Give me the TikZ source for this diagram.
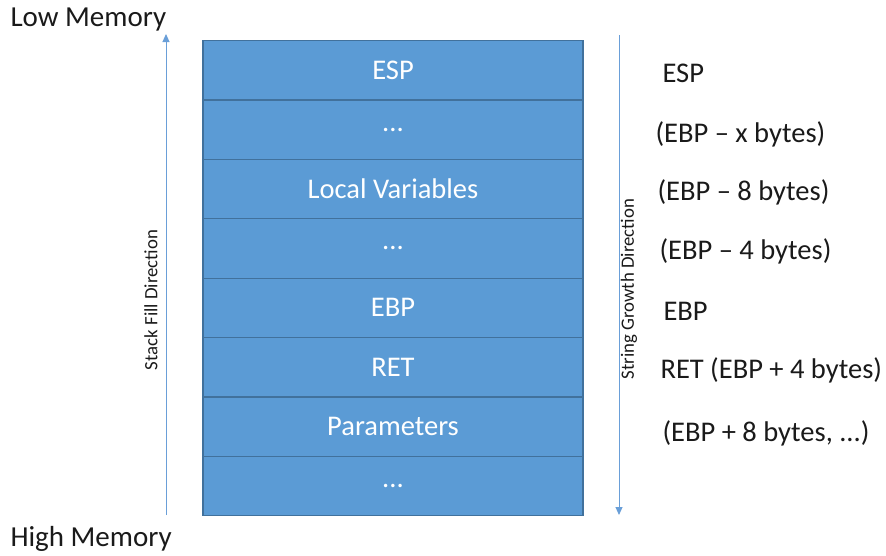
\documentclass[tikz,border=0pt]{standalone}
\usepackage{fontspec}
\setmainfont{Carlito}
\usetikzlibrary{arrows.meta}
\definecolor{boxfill}{HTML}{5B9BD5}
\definecolor{boxline}{HTML}{41719C}
\definecolor{arrowc}{HTML}{6A9FD8}
\definecolor{txt}{HTML}{1A1A1A}
\tikzset{
  cell/.style={draw=boxline, line width=1.2pt, fill=boxfill, minimum width=380pt, minimum height=59.4pt, inner sep=0pt, text=white, font=\fontsize{28.5}{30}\selectfont},
  side/.style={anchor=west, text=txt, font=\fontsize{28.5}{30}\selectfont},
  memlbl/.style={anchor=west, text=txt, font=\fontsize{29}{31}\selectfont},
  dirarrow/.style={draw=arrowc, line width=1pt, -{Triangle[length=8pt,width=7pt]}},
  dirlbl/.style={text=txt, font=\fontsize{18.8}{20}\selectfont, rotate=90}
}
\begin{document}
\begin{tikzpicture}[x=1pt,y=-1pt]
\useasboundingbox (0,0) rectangle (886,555);
\node[cell] (c1) at (393,70.2) {ESP};
\node[cell] (c2) at (393,129.6) {...};
\node[cell] (c3) at (393,189.0) {Local Variables};
\node[cell] (c4) at (393,248.4) {...};
\node[cell] (c5) at (393,307.8) {EBP};
\node[cell] (c6) at (393,367.2) {RET};
\node[cell] (c7) at (393,426.6) {Parameters};
\node[cell] (c8) at (393,486.0) {...};
\node[side] (r1) at (659,73) {ESP};
\node[side] (r2) at (652,134) {(EBP -- x bytes)};
\node[side] (r3) at (654,192) {(EBP -- 8 bytes)};
\node[side] (r4) at (656,251) {(EBP -- 4 bytes)};
\node[side] (r5) at (660,311) {EBP};
\node[side] (r6) at (657,370) {RET (EBP + 4 bytes)};
\node[side] (r7) at (659,433) {(EBP + 8 bytes, ...)};
\node[memlbl] (low) at (7,20) {Low Memory};
\node[memlbl] (high) at (7,539) {High Memory};
\coordinate (la) at (166,515);
\coordinate (lb) at (166,34);
\coordinate (ra) at (619,35);
\coordinate (rb) at (619,515);
\draw[dirarrow] (la) -- (lb);
\draw[dirarrow] (ra) -- (rb);
\node[dirlbl] (sfd) at (151,300) {Stack Fill Direction};
\node[dirlbl] (sgd) at (629,289) {String Growth Direction};
\end{tikzpicture}
\end{document}
